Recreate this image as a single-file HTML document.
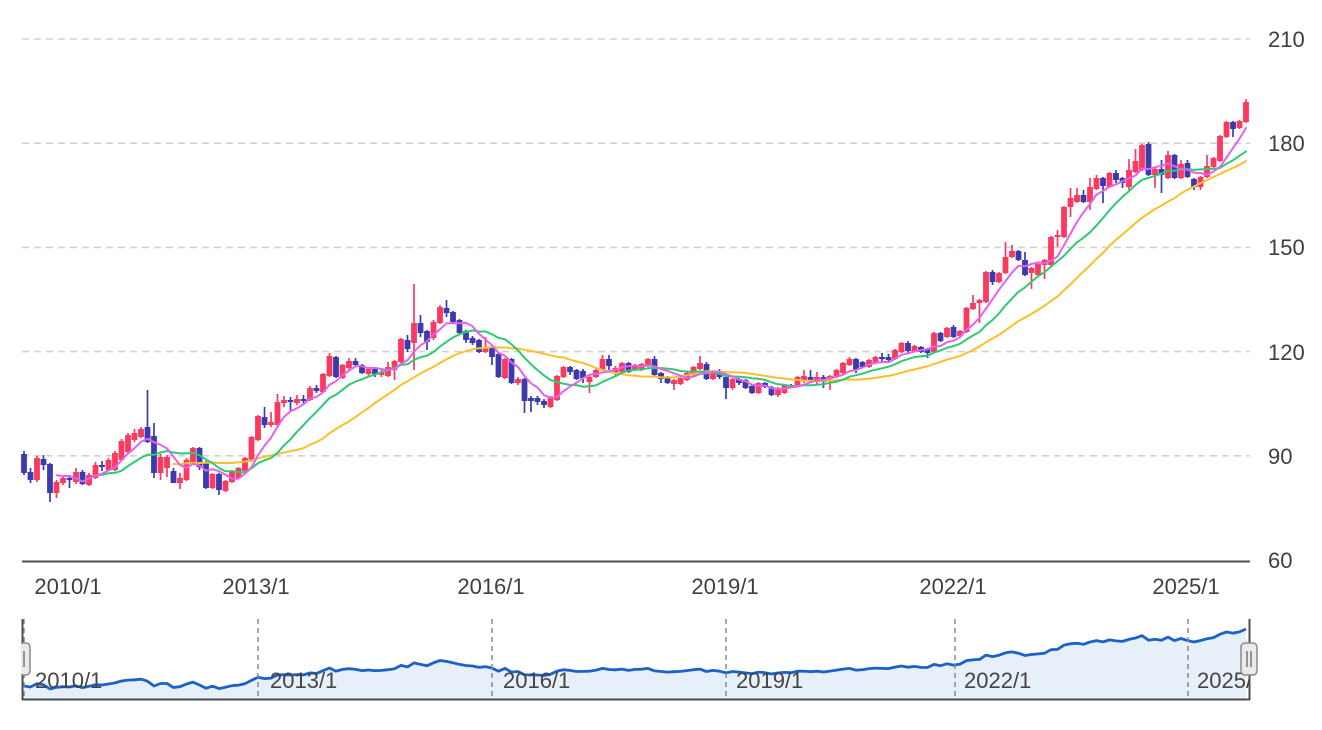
<!DOCTYPE html>
<html><head><meta charset="utf-8">
<style>
html,body{margin:0;padding:0;background:#fff;}
svg{display:block;font-family:"Liberation Sans",Arial,sans-serif;}
</style></head>
<body>
<svg id="c" width="1322" height="730" viewBox="0 0 1322 730" xmlns="http://www.w3.org/2000/svg">
<rect x="0" y="0" width="1322" height="730" fill="#fff"/>
<defs>
<clipPath id="navclip"><rect x="22" y="600" width="1227" height="110"/></clipPath>
<clipPath id="hclip"><rect x="21" y="600" width="1240" height="110"/></clipPath>
</defs>
<g stroke="#d2d2d2" stroke-width="1.6" stroke-dasharray="7,5">
<line x1="22" y1="39" x2="1250" y2="39"/>
<line x1="22" y1="143.2" x2="1250" y2="143.2"/>
<line x1="22" y1="247.4" x2="1250" y2="247.4"/>
<line x1="22" y1="351.6" x2="1250" y2="351.6"/>
<line x1="22" y1="455.8" x2="1250" y2="455.8"/>
</g>
<line x1="22" y1="561.5" x2="1250" y2="561.5" stroke="#4a4e55" stroke-width="2"/>
<g font-size="22" fill="#3c4043">
<text x="1268" y="47">210</text>
<text x="1268" y="151">180</text>
<text x="1268" y="255">150</text>
<text x="1268" y="360">120</text>
<text x="1268" y="464">90</text>
<text x="1268" y="568">60</text>
</g>
<g font-size="22" fill="#3c4043" text-anchor="middle">
<text x="68" y="594">2010/1</text>
<text x="256" y="594">2013/1</text>
<text x="491" y="594">2016/1</text>
<text x="725" y="594">2019/1</text>
<text x="953" y="594">2022/1</text>
<text x="1186" y="594">2025/1</text>
</g>
<g id="candles"></g>
<g id="mas" fill="none" stroke-width="2" stroke-linejoin="round" stroke-linecap="round"></g>
<g id="nav" clip-path="url(#navclip)"></g>
<g stroke="#8a8a8a" stroke-width="1.5" stroke-dasharray="5,4">
<line x1="24" y1="619" x2="24" y2="700"/>
<line x1="258" y1="619" x2="258" y2="700"/>
<line x1="492" y1="619" x2="492" y2="700"/>
<line x1="726" y1="619" x2="726" y2="700"/>
<line x1="955" y1="619" x2="955" y2="700"/>
<line x1="1188" y1="619" x2="1188" y2="700"/>
</g>
<g font-size="22" fill="#444" clip-path="url(#navclip)">
<text x="35" y="688">2010/1</text>
<text x="270" y="688">2013/1</text>
<text x="503" y="688">2016/1</text>
<text x="736" y="688">2019/1</text>
<text x="964" y="688">2022/1</text>
<text x="1197" y="688">2025/1</text>
</g>
<g stroke="#4a4e55" stroke-width="2" fill="none">
<line x1="22.5" y1="619" x2="22.5" y2="700"/>
<line x1="1249.5" y1="619" x2="1249.5" y2="700"/>
<line x1="22" y1="699.5" x2="1250" y2="699.5"/>
</g>
<g clip-path="url(#hclip)">
<rect x="14" y="643" width="16" height="32" rx="4" fill="#eaeaea" stroke="#8a8a8a" stroke-width="1.5"/>
<line x1="20" y1="651" x2="20" y2="667" stroke="#777" stroke-width="1.5"/>
<line x1="24" y1="651" x2="24" y2="667" stroke="#777" stroke-width="1.5"/>
</g>
<rect x="1241" y="643" width="16" height="32" rx="4" fill="#eaeaea" stroke="#8a8a8a" stroke-width="1.5"/>
<line x1="1247" y1="651" x2="1247" y2="667" stroke="#777" stroke-width="1.5"/>
<line x1="1251" y1="651" x2="1251" y2="667" stroke="#777" stroke-width="1.5"/>
</svg>
<script>
(function(){
var D=[
['b',454,473,451,475],['b',472,480,468,483],['r',458,480,456,482],['b',459,465,455,470],['b',464,493,463,502],
['r',482,493,480,498],['r',478,483,475,485],['b',478,480,476,488],['r',472,482,468,484],['b',472,484,470,485],
['r',475,485,473,486],['r',465,478,462,479],['b',465,467,461,471],['r',460,470,458,471],['r',453,470,451,471],
['r',441,460,439,461],['r',435,452,433,453],['r',433,440,429,442],['r',429,437,427,438],['b',427,442,390,443],
['b',436,473,423,478],['r',457,473,454,480],['r',457,468,455,477],['b',471,483,468,483],['r',478,483,473,489],
['r',460,480,458,481],['r',448,462,447,463],['b',448,467,447,470],['b',462,488,461,489],['r',474,488,473,489],
['b',474,490,473,495],['r',481,491,480,492],['r',471,482,470,483],['r',468,478,467,479],['r',458,471,457,472],
['r',437,461,436,462],['r',416,440,415,441],['b',417,425,407,428],['r',422,425,412,427],['r',402,425,394,426],
['r',400,403,396,407],['b',400,402,397,412],['r',399,403,395,405],['b',399,401,395,404],['r',388,400,386,401],
['b',388,391,385,393],['r',374,392,373,393],['r',356,376,353,377],['b',357,377,356,378],['r',365,378,364,379],
['r',361,368,358,370],['b',361,365,358,367],['b',365,373,364,374],['r',369,374,367,376],['b',369,374,367,377],
['r',372,375,370,377],['r',367,376,362,377],['r',361,370,360,380],['r',339,362,338,363],['b',340,349,335,352],
['r',323,343,284,370],['b',323,333,315,337],['b',331,342,330,350],['r',322,338,320,340],['r',307,323,305,324],
['b',308,313,300,317],['b',312,322,311,323],['b',320,333,319,334],['b',331,340,330,343],['b',338,343,336,345],
['b',340,352,339,353],['r',347,352,337,353],['b',348,357,347,365],['b',354,377,353,378],['r',359,378,358,379],
['b',359,383,358,384],['r',379,383,377,385],['b',379,401,378,413],['b',398,401,396,412],['b',398,402,396,405],
['b',401,405,399,408],['r',397,407,396,408],['r',376,400,375,401],['r',367,377,366,378],['b',367,372,366,375],
['b',370,379,369,380],['b',371,378,369,383],['r',377,382,375,393],['r',370,377,369,378],['r',359,370,355,371],
['b',359,366,355,370],['r',368,373,366,377],['r',363,372,362,373],['b',363,372,362,373],['r',365,370,364,371],
['r',364,370,363,371],['r',359,366,358,367],['b',359,375,356,376],
['b',373,379,372,383],['b',377,383,376,384],['r',380,384,379,390],['r',378,384,377,385],['r',373,380,372,381],
['r',367,375,366,376],['r',363,369,356,370],['b',364,379,362,380],['r',372,379,370,380],['b',373,377,369,379],
['b',377,388,376,399],['r',379,388,378,390],['b',379,383,378,385],['b',380,388,379,389],['b',386,393,385,394],
['r',383,393,382,394],['b',383,387,382,388],['b',387,395,386,396],['r',388,395,387,397],['r',385,393,384,394],
['b',385,387,384,388],['r',377,385,376,386],['r',376,380,370,383],['b',377,380,370,382],['r',377,382,372,385],
['b',377,382,375,388],['r',376,379,375,390],['r',370,377,369,378],['r',363,373,362,374],['r',359,365,357,366],
['b',359,370,358,373],['b',362,367,361,368],['r',360,367,359,368],['r',357,363,356,364],['b',357,359,353,362],
['b',357,360,354,362],['r',350,359,349,360],['r',343,352,342,353],['b',343,351,341,353],['r',346,351,345,352],
['b',347,352,346,353],['b',349,353,348,358],['r',333,352,332,353],['b',333,341,332,342],['r',328,337,327,338],
['b',327,337,325,338],['r',331,336,330,337],['r',308,332,307,333],['r',303,309,295,310],['r',300,303,299,323],
['r',272,302,271,303],['b',272,282,270,285],['r',273,282,272,283],['r',257,273,242,274],['r',251,257,245,258],
['b',251,260,250,261],['b',260,275,252,276],['r',268,273,267,289],['r',264,275,263,276],['r',260,265,259,279],
['r',237,265,236,266],['r',235,237,230,247],['r',207,237,206,238],['r',198,207,188,217],['r',195,202,188,203],
['b',195,202,190,203],['r',187,202,178,210],['r',178,189,175,190],['b',178,186,177,203],['r',173,187,172,188],
['b',173,180,170,183],['b',178,183,177,188],['r',170,187,159,190],['r',161,172,149,173],['r',145,170,144,171],
['b',144,175,142,176],['r',169,175,168,188],['b',169,175,160,193],['r',155,178,151,179],['b',155,178,154,179],
['r',164,178,160,179],['b',163,177,160,178],['b',179,187,178,190],['r',177,187,176,190],['r',166,177,155,178],
['r',158,167,157,168],['r',136,161,135,162],['r',122,137,121,138],['b',122,129,121,137],['r',121,128,120,129],
['r',102,122,99,123]
];
var NS='http://www.w3.org/2000/svg';
function el(t,a,p){var e=document.createElementNS(NS,t);for(var k in a)e.setAttribute(k,a[k]);p.appendChild(e);return e;}
function X(i){return 24+6.5*i;}
var RED='#fa3a5e',BLUE='#3b3bae';
var gc=document.getElementById('candles');
var closes=[];
for(var i=0;i<D.length;i++){
  var d=D[i],c=d[0]==='r'?RED:BLUE,x=X(i);
  var top=d[1],bot=d[2];
  closes.push(d[0]==='r'?top:bot);
  el('line',{x1:x,y1:d[3],x2:x,y2:d[4],stroke:c,'stroke-width':1.7},gc);
  var h=Math.max(bot-top,1.8);
  el('rect',{x:x-2.9,y:top,width:5.8,height:h,fill:c},gc);
}
var gm=document.getElementById('mas');
function ma(n,col){
  var pts=[];
  for(var i=n-1;i<closes.length;i++){
    var s=0;for(var j=i-n+1;j<=i;j++)s+=closes[j];
    pts.push(X(i).toFixed(1)+','+(s/n).toFixed(1));
  }
  el('polyline',{points:pts.join(' '),stroke:col},gm);
}
ma(24,'#fcbf2c');
ma(12,'#2dca72');
ma(6,'#e661ee');
var gn=document.getElementById('nav');
var np=[];
for(var i=0;i<closes.length;i++){np.push(X(i).toFixed(1)+','+(613.3+0.1536*closes[i]).toFixed(1));}
el('polygon',{points:'22,700 22,'+(613.3+0.1536*closes[0]).toFixed(1)+' '+np.join(' ')+' '+X(closes.length-1)+',700',fill:'#e7eff9'},gn);
el('polyline',{points:'22,'+(613.3+0.1536*closes[0]).toFixed(1)+' '+np.join(' '),fill:'none',stroke:'#1b62c8','stroke-width':2.8,'stroke-linejoin':'round'},gn);
})();
</script>
</body></html>
